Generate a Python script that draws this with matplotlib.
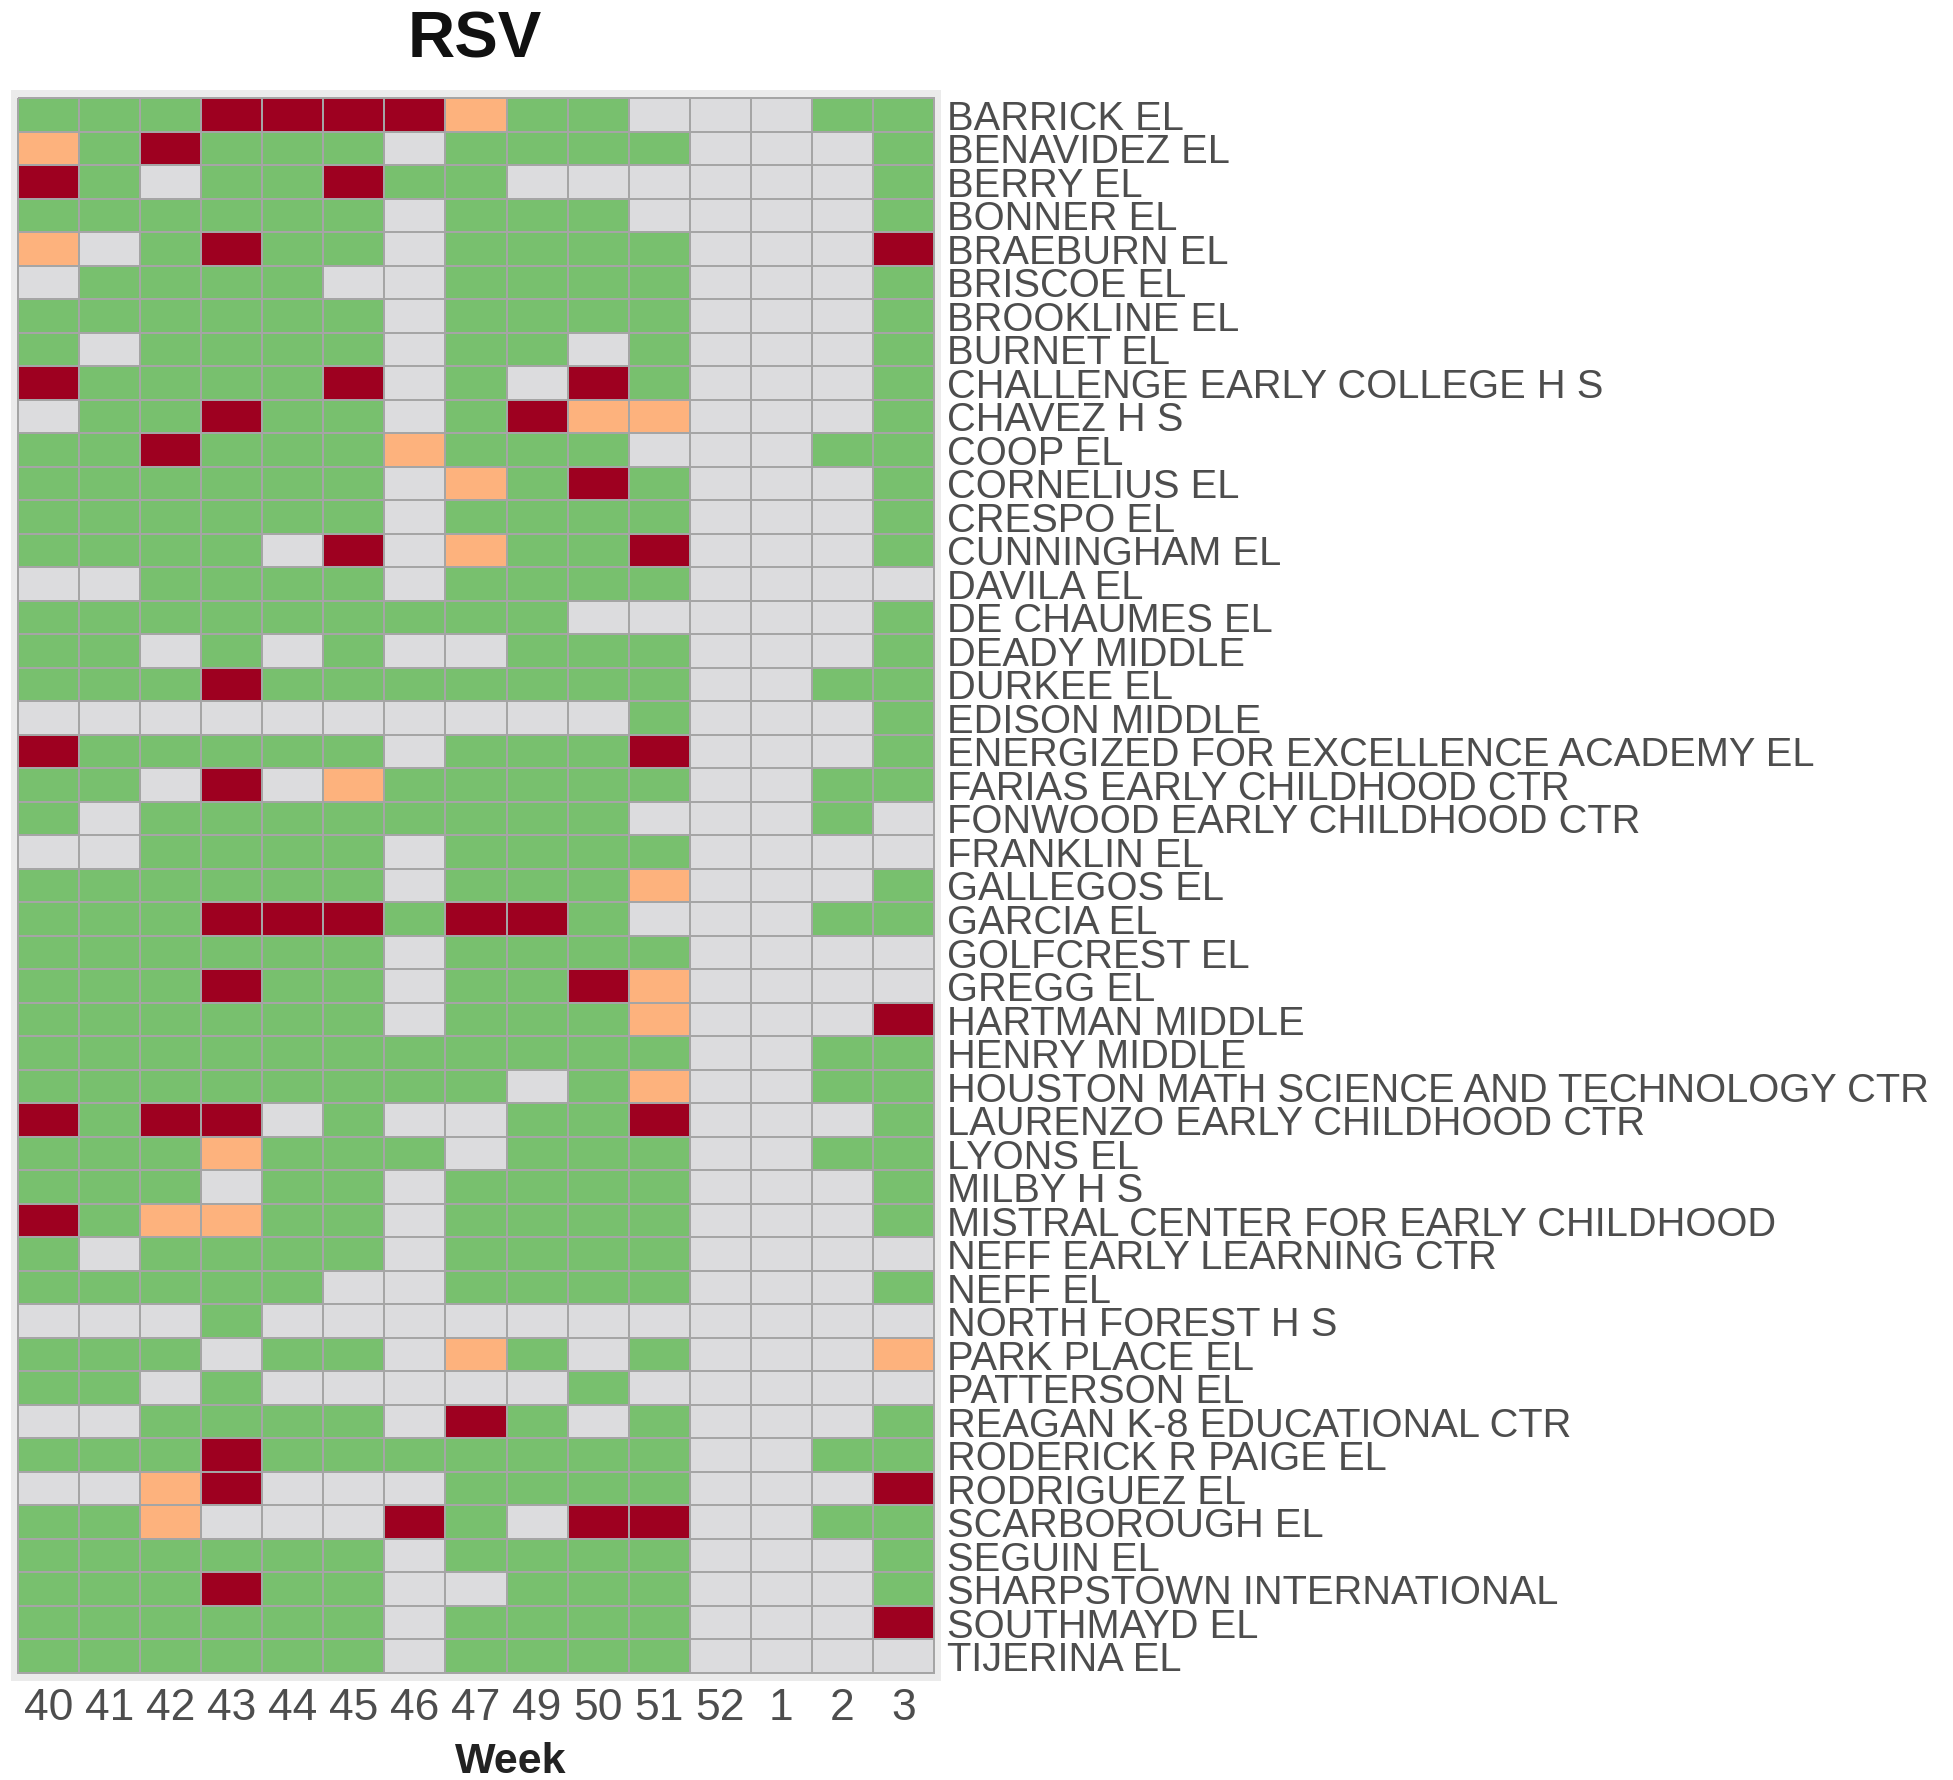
"""
RSV 各校每週狀態熱圖
"""

import numpy as np
import matplotlib
matplotlib.use("Agg")
import matplotlib.pyplot as plt
from matplotlib.colors import ListedColormap

# ── 資料 ──────────────────────────────────────────────────────────────────────
weeks = ["40", "41", "42", "43", "44", "45", "46", "47", "49", "50", "51",
         "52", "1", "2", "3"]

schools = [
    "BARRICK EL", "BENAVIDEZ EL", "BERRY EL", "BONNER EL", "BRAEBURN EL",
    "BRISCOE EL", "BROOKLINE EL", "BURNET EL", "CHALLENGE EARLY COLLEGE H S",
    "CHAVEZ H S", "COOP EL", "CORNELIUS EL", "CRESPO EL", "CUNNINGHAM EL",
    "DAVILA EL", "DE CHAUMES EL", "DEADY MIDDLE", "DURKEE EL",
    "EDISON MIDDLE", "ENERGIZED FOR EXCELLENCE ACADEMY EL",
    "FARIAS EARLY CHILDHOOD CTR", "FONWOOD EARLY CHILDHOOD CTR",
    "FRANKLIN EL", "GALLEGOS EL", "GARCIA EL", "GOLFCREST EL", "GREGG EL",
    "HARTMAN MIDDLE", "HENRY MIDDLE",
    "HOUSTON MATH SCIENCE AND TECHNOLOGY CTR", "LAURENZO EARLY CHILDHOOD CTR",
    "LYONS EL", "MILBY H S", "MISTRAL CENTER FOR EARLY CHILDHOOD",
    "NEFF EARLY LEARNING CTR", "NEFF EL", "NORTH FOREST H S", "PARK PLACE EL",
    "PATTERSON EL", "REAGAN K-8 EDUCATIONAL CTR", "RODERICK R PAIGE EL",
    "RODRIGUEZ EL", "SCARBOROUGH EL", "SEGUIN EL", "SHARPSTOWN INTERNATIONAL",
    "SOUTHMAYD EL", "TIJERINA EL",
]

# 每列一校、每字一週：L=無資料 G=低 O=中 R=高
status = [
    "GGGRRRROGGLLLGG",  # BARRICK
    "OGRGGGLGGGGLLLG",  # BENAVIDEZ
    "RGLGGRGGLLLLLLG",  # BERRY
    "GGGGGGLGGGLLLLG",  # BONNER
    "OLGRGGLGGGGLLLR",  # BRAEBURN
    "LGGGGLLGGGGLLLG",  # BRISCOE
    "GGGGGGLGGGGLLLG",  # BROOKLINE
    "GLGGGGLGGLGLLLG",  # BURNET
    "RGGGGRLGLRGLLLG",  # CHALLENGE
    "LGGRGGLGROOLLLG",  # CHAVEZ
    "GGRGGGOGGGLLLGG",  # COOP
    "GGGGGGLOGRGLLLG",  # CORNELIUS
    "GGGGGGLGGGGLLLG",  # CRESPO
    "GGGGLRLOGGRLLLG",  # CUNNINGHAM
    "LLGGGGLGGGGLLLL",  # DAVILA
    "GGGGGGGGGLLLLLG",  # DE CHAUMES
    "GGLGLGLLGGGLLLG",  # DEADY
    "GGGRGGGGGGGLLGG",  # DURKEE
    "LLLLLLLLLLGLLLG",  # EDISON
    "RGGGGGLGGGRLLLG",  # ENERGIZED
    "GGLRLOGGGGGLLGG",  # FARIAS
    "GLGGGGGGGGLLLGL",  # FONWOOD
    "LLGGGGLGGGGLLLL",  # FRANKLIN
    "GGGGGGLGGGOLLLG",  # GALLEGOS
    "GGGRRRGRRGLLLGG",  # GARCIA
    "GGGGGGLGGGGLLLL",  # GOLFCREST
    "GGGRGGLGGROLLLL",  # GREGG
    "GGGGGGLGGGOLLLR",  # HARTMAN
    "GGGGGGGGGGGLLGG",  # HENRY
    "GGGGGGGGLGOLLGG",  # HOUSTON
    "RGRRLGLLGGRLLLG",  # LAURENZO
    "GGGOGGGLGGGLLGG",  # LYONS
    "GGGLGGLGGGGLLLG",  # MILBY
    "RGOOGGLGGGGLLLG",  # MISTRAL
    "GLGGGGLGGGGLLLL",  # NEFF EARLY
    "GGGGGLLGGGGLLLG",  # NEFF EL
    "LLLGLLLLLLLLLLL",  # NORTH FOREST
    "GGGLGGLOGLGLLLO",  # PARK PLACE
    "GGLGLLLLLGLLLLL",  # PATTERSON
    "LLGGGGLRGLGLLLG",  # REAGAN
    "GGGRGGGGGGGLLGG",  # RODERICK
    "LLORLLLGGGGLLLR",  # RODRIGUEZ
    "GGOLLLRGLRRLLGG",  # SCARBOROUGH
    "GGGGGGLGGGGLLLG",  # SEGUIN
    "GGGRGGLLGGGLLLG",  # SHARPSTOWN
    "GGGGGGLGGGGLLLR",  # SOUTHMAYD
    "GGGGGGLGGGGLLLL",  # TIJERINA
]

levels = ["L", "G", "O", "R"]
level_colors = ["#DCDCDE", "#78C06E", "#FDB27D", "#9E0020"]

# ── 畫圖 ──────────────────────────────────────────────────────────────────────
W, H = 1953, 1780
plt.rcParams["font.family"] = ["Liberation Sans", "DejaVu Sans"]

grid = np.array([[levels.index(c) for c in row] for row in status])
nr, nc = grid.shape

fig = plt.figure(figsize=(W / 100, H / 100), dpi=100)
# 灰框 11..941 x 90..1681 px
ax = fig.add_axes([11 / W, 1 - 1681 / H, 930 / W, 1591 / H])
ax.set_facecolor("#EBEBEB")

ax.pcolormesh(np.arange(nc + 1), np.arange(nr + 1), grid,
              cmap=ListedColormap(level_colors), vmin=-0.5, vmax=3.5,
              edgecolors="#A5A5A5", linewidth=1.4)

padx = 7 / (916 / nc)
pady = 8 / (1575 / nr)
ax.set_xlim(-padx, nc + padx)
ax.set_ylim(nr + pady, -pady)

for s in ax.spines.values():
    s.set_visible(False)

ax.yaxis.tick_right()
ax.set_yticks(np.arange(nr) + 0.5)
ax.set_yticklabels(schools, fontsize=28.7, color="#4d4d4d")
ax.set_xticks(np.arange(nc) + 0.5)
ax.set_xticklabels(weeks, fontsize=32, color="#4d4d4d")
ax.tick_params(length=0)
ax.tick_params(axis="y", pad=4)
ax.tick_params(axis="x", pad=5)

fig.text(475 / W, 1 - 41 / H, "RSV", fontsize=47, fontweight="bold",
         ha="center", va="center", color="#111111")
fig.text(511 / W, 1 - 1762 / H, "Week", fontsize=31, fontweight="bold",
         ha="center", va="center", color="#222222")

fig.savefig("out.png", dpi=100)
